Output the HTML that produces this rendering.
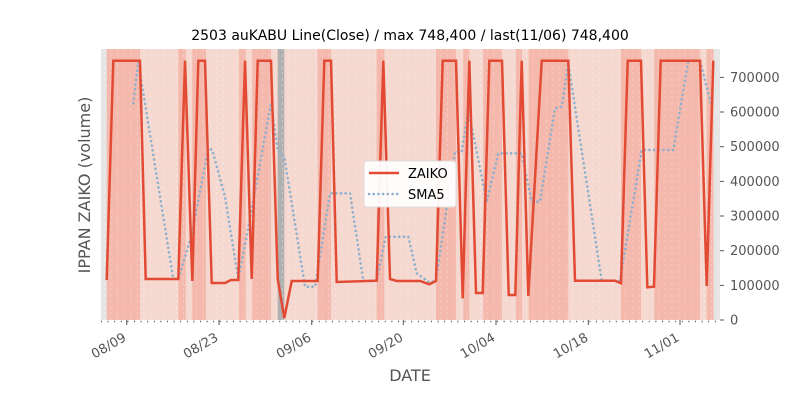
<!DOCTYPE html>
<html><head><meta charset="utf-8"><style>
body{margin:0;background:#fff;}
svg{display:block;font-family:"DejaVu Sans","Liberation Sans",sans-serif;}
</style></head><body>
<svg width="800" height="400" viewBox="0 0 800 400" xmlns="http://www.w3.org/2000/svg">
<defs>
<pattern id="vg" x="101" y="0" width="6.6" height="400" patternUnits="userSpaceOnUse">
<line x1="3.3" y1="0" x2="3.3" y2="400" stroke="#fff" stroke-width="0.7" stroke-dasharray="3,3" opacity="0.35"/>
</pattern>
</defs>
<text x="410" y="40" font-size="14" text-anchor="middle" fill="#000">2503 auKABU Line(Close) / max 748,400 / last(11/06) 748,400</text>
<rect x="101" y="49" width="619" height="271" fill="#f5d8cf"/>
<rect x="101" y="49" width="6" height="271" fill="#e5e5e5"/>
<rect x="714" y="49" width="6" height="271" fill="#e5e5e5"/>
<rect x="277.7" y="49" width="6.6" height="271" fill="#b0b0b0"/>
<g fill="#f4b8ac">
<rect x="106.7" y="49" width="33.3" height="271"/>
<rect x="178.3" y="49" width="7.4" height="271"/>
<rect x="192.3" y="49" width="13.7" height="271"/>
<rect x="239" y="49" width="6.7" height="271"/>
<rect x="252.3" y="49" width="18.7" height="271"/>
<rect x="317.7" y="49" width="13.3" height="271"/>
<rect x="376.7" y="49" width="7.6" height="271"/>
<rect x="436" y="49" width="20" height="271"/>
<rect x="463.3" y="49" width="6" height="271"/>
<rect x="483.3" y="49" width="18.7" height="271"/>
<rect x="516" y="49" width="6" height="271"/>
<rect x="528.7" y="49" width="39.6" height="271"/>
<rect x="621" y="49" width="20" height="271"/>
<rect x="654.3" y="49" width="45.7" height="271"/>
<rect x="706.7" y="49" width="6.6" height="271"/>
</g>
<rect x="101" y="49" width="619" height="271" fill="url(#vg)"/>
<polyline fill="none" stroke="#8fb0cc" stroke-width="2.6" stroke-dasharray="0.1,4.6" stroke-linecap="round"
points="133.3,103.3 138.3,61.7 173.3,279 178.3,279 191.7,235 208.3,148.3 212.3,150 225,196.7 238.3,279 246.7,236.7 271,103.3 277.7,150 284.3,156.7 305,286.7 315,286.7 330,193.3 350,193.3 363.3,280.7 376.7,280.7 385.7,236.7 408.3,236.7 416.7,273.3 430,282.7 436,280 455,151.7 461.7,151.7 468.3,110 486.7,201.7 498.3,153.3 521.7,153.3 531.7,201.7 540,201.7 555,108.3 561.7,106.7 568.3,63.3 601.7,280.7 620,280.7 641.7,150 673.3,150 688.3,60.7 700,60.7 711.7,106.7"/>
<polyline fill="none" stroke="#e24a33" stroke-width="2.5" stroke-linejoin="miter"
points="106.7,280 113.3,60.7 140,60.7 145.7,279 178.3,279 185,60.7 192.3,281 198.3,60.7 205,60.7 211.7,283 225,283 231,280 238.3,280 245,60.7 251.7,279 257.7,60.7 271,60.7 277.7,279 284.3,318 291.7,281 317.7,281 324.3,60.7 331,60.7 336.7,282 376.7,280.7 383.3,60.7 390,279 396.7,281 420,281 429.3,284.3 436,281 442.7,60.7 456,60.7 462.7,298.3 469.3,60.7 476,293 482.7,293 489.3,60.7 502,60.7 508.7,295 515.3,295 521.7,60.7 528.3,296 541.7,60.7 568.3,60.7 575,280.7 615,280.7 621,283.3 627.7,60.7 641,60.7 647.3,287.3 654,286.7 660.7,60.7 700,60.7 706.7,286 713.3,60.7"/>
<g stroke="#555" stroke-width="1">
<line x1="720" y1="320" x2="724" y2="320"/><line x1="720" y1="285.4" x2="724" y2="285.4"/>
<line x1="720" y1="250.7" x2="724" y2="250.7"/><line x1="720" y1="216" x2="724" y2="216"/>
<line x1="720" y1="181.4" x2="724" y2="181.4"/><line x1="720" y1="146.7" x2="724" y2="146.7"/>
<line x1="720" y1="112" x2="724" y2="112"/><line x1="720" y1="77.4" x2="724" y2="77.4"/>
</g>
<g font-size="13" fill="#555">
<text x="730" y="324.5">0</text><text x="730" y="290">100000</text>
<text x="730" y="255.2">200000</text>
<text x="730" y="220.5">300000</text><text x="730" y="186">400000</text><text x="730" y="151.2">500000</text>
<text x="730" y="116.5">600000</text><text x="730" y="82">700000</text>
</g>
<g stroke="#555" stroke-width="1">
<line x1="126.7" y1="320" x2="126.7" y2="325"/><line x1="219" y1="320" x2="219" y2="325"/>
<line x1="311.7" y1="320" x2="311.7" y2="325"/><line x1="403.3" y1="320" x2="403.3" y2="325"/>
<line x1="496" y1="320" x2="496" y2="325"/><line x1="588.3" y1="320" x2="588.3" y2="325"/>
<line x1="680" y1="320" x2="680" y2="325"/>
</g>
<line x1="101" y1="321.5" x2="720" y2="321.5" stroke="#555" stroke-width="1.5" stroke-dasharray="1,5.6"/>
<g font-size="13" fill="#555" text-anchor="end">
<text transform="translate(127,340) rotate(-30)">08/09</text>
<text transform="translate(219,340) rotate(-30)">08/23</text>
<text transform="translate(312,340) rotate(-30)">09/06</text>
<text transform="translate(404,340) rotate(-30)">09/20</text>
<text transform="translate(496,340) rotate(-30)">10/04</text>
<text transform="translate(589,340) rotate(-30)">10/18</text>
<text transform="translate(680,340) rotate(-30)">11/01</text>
</g>
<text x="410" y="381" font-size="16" fill="#555" text-anchor="middle">DATE</text>
<text transform="translate(90,185) rotate(-90)" font-size="16" fill="#555" text-anchor="middle">IPPAN ZAIKO (volume)</text>
<rect x="364" y="161" width="92" height="46" rx="3" fill="#fff" stroke="#ddd" opacity="0.95"/>
<line x1="369" y1="173" x2="399" y2="173" stroke="#e24a33" stroke-width="2.5"/>
<line x1="369" y1="194" x2="399" y2="194" stroke="#8fb0cc" stroke-width="2.6" stroke-dasharray="0.1,4.6" stroke-linecap="round"/>
<text x="408" y="178" font-size="13" fill="#000">ZAIKO</text>
<text x="408" y="199" font-size="13" fill="#000">SMA5</text>
</svg>
</body></html>
